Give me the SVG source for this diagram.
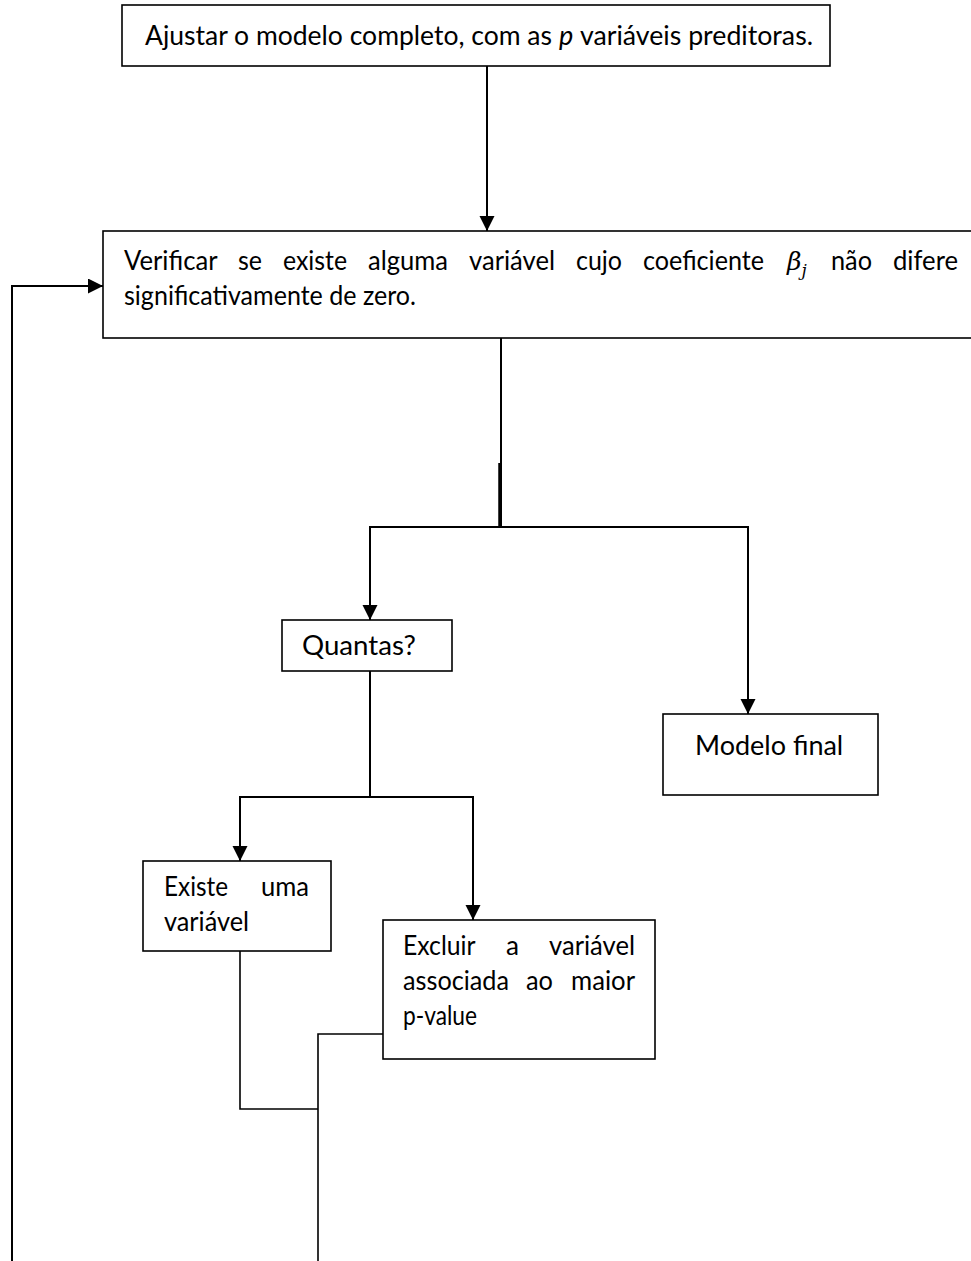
<svg xmlns="http://www.w3.org/2000/svg" width="971" height="1261" viewBox="0 0 971 1261">
  <defs>
    <style>
      .box { fill: #ffffff; stroke: #000000; stroke-width: 1.6; }
      .lbl { font-family: "Lato", "Liberation Sans", sans-serif; font-size: 27px; fill: #000000; }
      .math { font-family: "DejaVu Serif", "Liberation Serif", serif; font-style: italic; font-size: 25px; fill: #000000; }
      .edge { fill: none; stroke: #000000; stroke-width: 2; }
      .thin { fill: none; stroke: #000000; stroke-width: 1.6; }
    </style>
    <marker id="arrow" markerUnits="userSpaceOnUse" markerWidth="15" markerHeight="16" refX="15" refY="7.5" orient="auto">
      <path d="M0,0 L15,7.5 L0,15 Z" fill="#000000"/>
    </marker>
  </defs>

  <rect width="971" height="1261" fill="#ffffff"/>

  <!-- connectors -->
  <g id="connectors">
    <line class="edge" x1="487" y1="66" x2="487" y2="231" marker-end="url(#arrow)"/>
    <polyline class="edge" points="12,1261 12,286 103,286" marker-end="url(#arrow)"/>
    <line class="edge" x1="501" y1="338" x2="501" y2="527"/>
    <line x1="500" y1="463" x2="500" y2="527" stroke="#000000" stroke-width="3.5"/>
    <line class="edge" x1="369" y1="527" x2="749" y2="527"/>
    <line class="edge" x1="370" y1="526" x2="370" y2="620" marker-end="url(#arrow)"/>
    <line class="edge" x1="748" y1="526" x2="748" y2="714" marker-end="url(#arrow)"/>
    <line class="edge" x1="370" y1="671" x2="370" y2="797"/>
    <line class="edge" x1="239" y1="797" x2="474" y2="797"/>
    <line class="edge" x1="240" y1="796" x2="240" y2="861" marker-end="url(#arrow)"/>
    <line class="edge" x1="473" y1="796" x2="473" y2="920" marker-end="url(#arrow)"/>
    <polyline class="thin" points="240,951 240,1109 318,1109"/>
    <polyline class="thin" points="383,1034 318,1034 318,1261"/>
  </g>

  <!-- full model fit -->
  <g id="node-ajustar">
    <rect class="box" x="122" y="5" width="708" height="61"/>
    <text class="lbl" x="145" y="45" textLength="407" lengthAdjust="spacingAndGlyphs">Ajustar o modelo completo, com as</text>
    <text class="lbl" x="559" y="45" font-style="italic">p</text>
    <text class="lbl" x="580" y="45" textLength="233" lengthAdjust="spacingAndGlyphs">variáveis preditoras.</text>
  </g>

  <!-- significance check -->
  <g id="node-verificar">
    <rect class="box" x="103" y="231" width="880" height="107"/>
    <text class="lbl" y="270">
      <tspan x="124" textLength="93" lengthAdjust="spacingAndGlyphs">Verificar</tspan>
      <tspan x="238" textLength="24" lengthAdjust="spacingAndGlyphs">se</tspan>
      <tspan x="283" textLength="64" lengthAdjust="spacingAndGlyphs">existe</tspan>
      <tspan x="368" textLength="80" lengthAdjust="spacingAndGlyphs">alguma</tspan>
      <tspan x="469" textLength="86" lengthAdjust="spacingAndGlyphs">variável</tspan>
      <tspan x="576" textLength="46" lengthAdjust="spacingAndGlyphs">cujo</tspan>
      <tspan x="643" textLength="121" lengthAdjust="spacingAndGlyphs">coeficiente</tspan>
      <tspan x="831" textLength="41" lengthAdjust="spacingAndGlyphs">não</tspan>
      <tspan x="893" textLength="65" lengthAdjust="spacingAndGlyphs">difere</tspan>
    </text>
    <text class="math" x="787" y="270">β<tspan font-size="17" dy="6">j</tspan></text>
    <text class="lbl" x="124" y="305" textLength="292" lengthAdjust="spacingAndGlyphs">significativamente de zero.</text>
  </g>

  <g id="node-quantas">
    <rect class="box" x="282" y="620" width="170" height="51"/>
    <text class="lbl" x="302" y="655" textLength="114" lengthAdjust="spacingAndGlyphs">Quantas?</text>
  </g>

  <g id="node-modelo-final">
    <rect class="box" x="663" y="714" width="215" height="81"/>
    <text class="lbl" x="695" y="755">Modelo final</text>
  </g>

  <g id="node-existe">
    <rect class="box" x="143" y="861" width="188" height="90"/>
    <text class="lbl" y="896">
      <tspan x="164" textLength="64" lengthAdjust="spacingAndGlyphs">Existe</tspan>
      <tspan x="261" textLength="48" lengthAdjust="spacingAndGlyphs">uma</tspan>
    </text>
    <text class="lbl" x="164" y="931" textLength="85" lengthAdjust="spacingAndGlyphs">variável</text>
  </g>

  <g id="node-excluir">
    <rect class="box" x="383" y="920" width="272" height="139"/>
    <text class="lbl" y="955">
      <tspan x="403" textLength="72" lengthAdjust="spacingAndGlyphs">Excluir</tspan>
      <tspan x="506" textLength="13" lengthAdjust="spacingAndGlyphs">a</tspan>
      <tspan x="549" textLength="86" lengthAdjust="spacingAndGlyphs">variável</tspan>
    </text>
    <text class="lbl" y="990">
      <tspan x="403" textLength="106" lengthAdjust="spacingAndGlyphs">associada</tspan>
      <tspan x="526" textLength="27" lengthAdjust="spacingAndGlyphs">ao</tspan>
      <tspan x="571" textLength="64" lengthAdjust="spacingAndGlyphs">maior</tspan>
    </text>
    <text class="lbl" x="403" y="1025" textLength="74" lengthAdjust="spacingAndGlyphs">p-value</text>
  </g>
</svg>
